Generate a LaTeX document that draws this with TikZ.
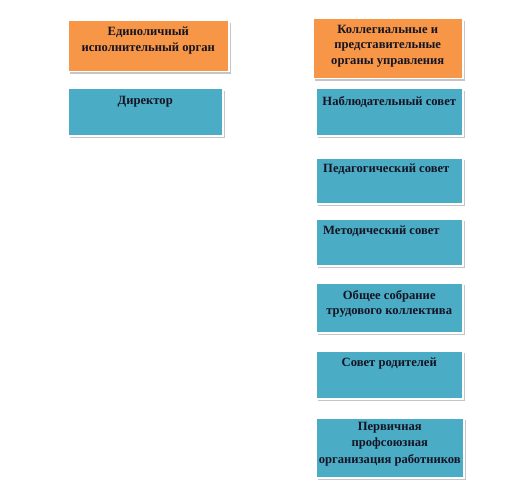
\documentclass[tikz,border=0pt]{standalone}
\usepackage{fontspec}
\setmainfont{Liberation Serif}
\usetikzlibrary{shadows}
\definecolor{orng}{HTML}{F79646}
\definecolor{blu}{HTML}{4BACC6}
\definecolor{txt}{HTML}{141423}
\tikzset{
  base/.style={anchor=north west, inner sep=0pt, draw=white, line width=1.5pt,
    drop shadow={shadow xshift=2pt, shadow yshift=-2pt, fill=black!45, opacity=0.5}},
  obox/.style={base, fill=orng},
  bbox/.style={base, fill=blu},
  lbl/.style={anchor=north, inner sep=0pt, font=\bfseries\fontsize{12.6}{15.5}\selectfont, text=txt, align=center},
  lbll/.style={anchor=north west, inner sep=0pt, font=\bfseries\fontsize{12.6}{15.5}\selectfont, text=txt, align=left}
}
\begin{document}
\begin{tikzpicture}[x=1pt,y=-1pt]
\useasboundingbox[fill=white] (0,0) rectangle (508,500);
% left column
\node[obox, minimum width=161pt, minimum height=51pt] (lo) at (67,20) {};
\node[lbl] (lot) at ([yshift=-7pt]lo.north) {Единоличный\\исполнительный орган};
\node[bbox, minimum width=155pt, minimum height=47pt] (dir) at (67,88) {};
\node[lbl] (dirt) at ([yshift=-8pt]dir.north) {Директор};
% right column
\node[obox, minimum width=150pt, minimum height=60pt] (ro) at (312,18) {};
\node[lbl] (rot) at ([yshift=-7pt]ro.north) {Коллегиальные и\\представительные\\органы управления};
\node[bbox, minimum width=147pt, minimum height=47pt] (nab) at (315,88) {};
\node[lbl] (nabt) at ([yshift=-8pt]nab.north) {Наблюдательный совет};
\node[bbox, minimum width=147pt, minimum height=46pt] (ped) at (315,157) {};
\node[lbll] (pedt) at ([xshift=8pt,yshift=-7pt]ped.north west) {Педагогический совет};
\node[bbox, minimum width=147pt, minimum height=47pt] (met) at (315,218) {};
\node[lbll] (mett) at ([xshift=8pt,yshift=-8pt]met.north west) {Методический совет};
\node[bbox, minimum width=147pt, minimum height=50pt] (obs) at (315,282) {};
\node[lbl] (obst) at ([yshift=-8pt]obs.north) {Общее собрание\\трудового коллектива};
\node[bbox, minimum width=147pt, minimum height=48pt] (rod) at (315,350) {};
\node[lbl] (rodt) at ([yshift=-8pt]rod.north) {Совет родителей};
\node[bbox, minimum width=148pt, minimum height=60pt] (perv) at (315,417) {};
\node[lbl, font=\bfseries\fontsize{12.6}{16.5}\selectfont] (pervt) at ([yshift=-5pt]perv.north) {Первичная\\профсоюзная\\организация работников};
\end{tikzpicture}
\end{document}
